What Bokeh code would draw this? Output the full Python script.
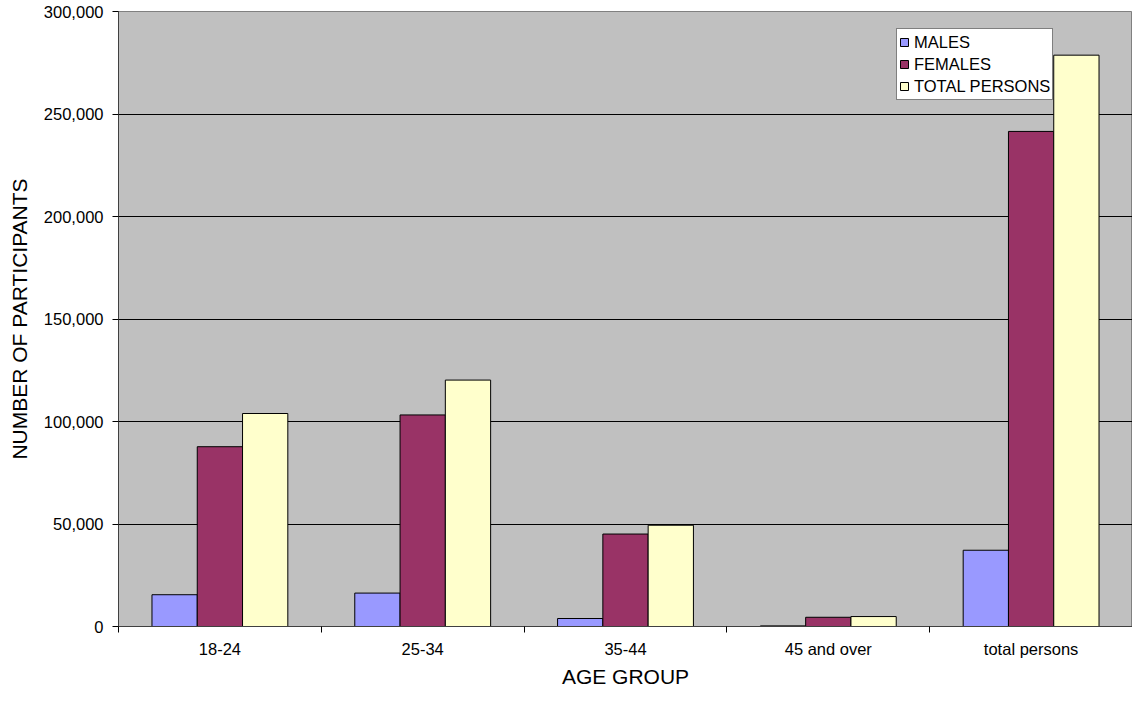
from bokeh.plotting import figure
from bokeh.models import (ColumnDataSource, Range1d, FixedTicker, NumeralTickFormatter,
                          Legend, LegendItem)
from bokeh.transform import dodge
from bokeh.embed import file_html
from bokeh.resources import INLINE

categories = ["18-24", "25-34", "35-44", "45 and over", "total persons"]
males = [15500, 16300, 3900, 300, 37200]
females = [87700, 103200, 45100, 4500, 241500]
total_persons = [103900, 120200, 49400, 4850, 278700]
series_names = ["MALES", "FEMALES", "TOTAL PERSONS"]
y_ticks = [0, 50000, 100000, 150000, 200000, 250000, 300000]

FONT = "Liberation Sans"
colors = ["#9999FF", "#993366", "#FFFFCC"]

n = len(categories)
centers = [i + 0.5 for i in range(n)]
bounds = [float(i) for i in range(n + 1)]

src = ColumnDataSource(dict(x=centers, males=males, females=females, total=total_persons))

p = figure(width=1132, height=690, output_backend="svg", toolbar_location=None,
           x_range=Range1d(0, n), y_range=Range1d(0, 300000),
           min_border_left=118, min_border_top=11, min_border_bottom=58, min_border_right=0)
p.background_fill_color = "#C0C0C0"
p.border_fill_color = "white"
p.outline_line_color = "#808080"
p.outline_line_width = 1

bw = 0.2233
renderers = []
for off, col, key in zip([-bw, 0.0, bw], colors, ["males", "females", "total"]):
    r = p.vbar(x=dodge("x", off), top=key, width=bw, bottom=0, source=src,
               fill_color=col, line_color="black", line_width=1)
    renderers.append(r)

# axes
p.xaxis.ticker = FixedTicker(ticks=centers, minor_ticks=bounds)
p.xaxis.major_label_overrides = {c: lab for c, lab in zip(centers, categories)}
p.xaxis.major_tick_out = 0
p.xaxis.major_tick_in = 0
p.xaxis.minor_tick_out = 6
p.xaxis.minor_tick_in = 0
p.xaxis.minor_tick_line_color = "black"
p.xaxis.axis_line_color = "#404040"
p.xaxis.major_label_standoff = 7
p.xaxis.axis_label = "AGE GROUP"
p.xaxis.axis_label_standoff = 4

p.yaxis.ticker = FixedTicker(ticks=y_ticks)
p.yaxis.formatter = NumeralTickFormatter(format="0,0")
p.yaxis.major_tick_out = 6
p.yaxis.major_tick_in = 0
p.yaxis.minor_tick_out = 0
p.yaxis.minor_tick_in = 0
p.yaxis.axis_line_color = "#404040"
p.yaxis.major_label_standoff = 9
p.yaxis.axis_label = "NUMBER OF PARTICIPANTS"
p.yaxis.axis_label_standoff = 10

for ax in (p.xaxis[0], p.yaxis[0]):
    ax.major_label_text_font = FONT
    ax.major_label_text_font_size = "16.5px"
    ax.major_label_text_color = "black"
    ax.axis_label_text_font = FONT
    ax.axis_label_text_font_size = "21px"
    ax.axis_label_text_font_style = "normal"
    ax.axis_label_text_color = "black"
    ax.major_tick_line_color = "black"

p.xgrid.visible = False
p.ygrid.ticker = FixedTicker(ticks=y_ticks)
p.ygrid.grid_line_color = "black"
p.ygrid.grid_line_width = 1

legend = Legend(items=[LegendItem(label=nm, renderers=[r]) for nm, r in zip(series_names, renderers)],
                location=(778, 526),
                label_text_font=FONT, label_text_font_size="16.5px", label_text_color="black",
                glyph_width=10, glyph_height=10, label_height=22, label_standoff=5,
                padding=2, spacing=0, margin=0,
                border_line_color="black", border_line_width=1,
                background_fill_color="white", background_fill_alpha=1.0)
p.add_layout(legend, "center")

open("out.html", "w").write(file_html(p, INLINE))
